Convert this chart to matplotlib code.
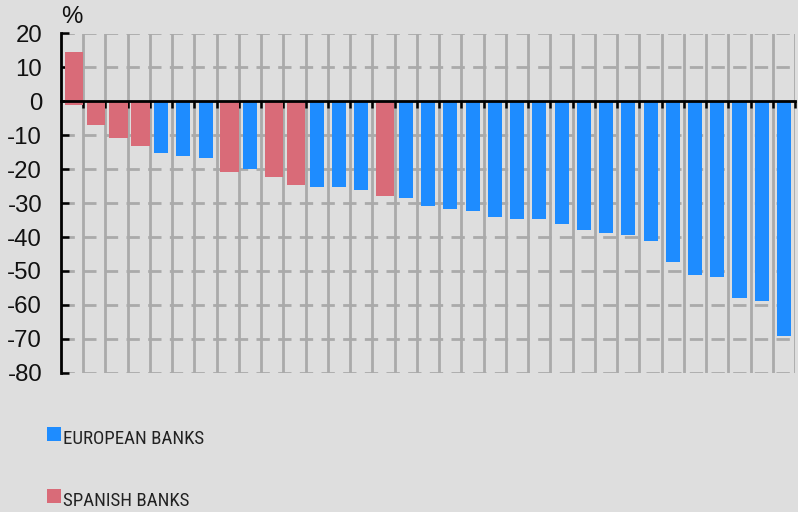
import matplotlib
matplotlib.use("Agg")
import matplotlib.pyplot as plt
from matplotlib.patches import Rectangle

# Share price change by bank (%), sorted from best to worst
values = [14.4, -7.0, -10.7, -13.1, -15.2, -16.0, -16.8, -20.9, -20.0, -22.3,
          -24.6, -25.4, -25.4, -26.2, -27.9, -28.5, -30.8, -31.6, -32.4, -34.0,
          -34.8, -34.8, -36.3, -37.9, -38.7, -39.5, -41.1, -47.3, -51.2, -51.9,
          -58.1, -58.9, -69.1]
groups = ["ES", "ES", "ES", "ES", "EU", "EU", "EU", "ES", "EU", "ES",
          "ES", "EU", "EU", "EU", "ES", "EU", "EU", "EU", "EU", "EU",
          "EU", "EU", "EU", "EU", "EU", "EU", "EU", "EU", "EU", "EU",
          "EU", "EU", "EU"]
bases = [-1.2] + [0.0] * (len(values) - 1)
y_ticks = [20, 10, 0, -10, -20, -30, -40, -50, -60, -70, -80]
legend_labels = ["EUROPEAN BANKS", "SPANISH BANKS"]

BG = "#dedede"
BLUE = "#1e8cff"
RED = "#d96b78"
GRID = "#aaaaaa"

W, H = 798, 512
fig = plt.figure(figsize=(W / 100, H / 100), dpi=100, facecolor=BG)
ax = fig.add_axes([61 / W, 1 - 372.7 / H, (795 - 61) / W, (372.7 - 33.5) / H])
ax.set_facecolor(BG)

n = len(values)
ax.set_xlim(-0.5, n - 0.5)
ax.set_ylim(-80, 20)

# grid: dashed horizontals, solid verticals at category boundaries
for yv in y_ticks:
    if yv != 0:
        ax.axhline(yv, color=GRID, lw=2.0, dashes=(4.8, 3.0), zorder=1)
for i in range(n):
    ax.axvline(i + 0.5, color=GRID, lw=2.0, zorder=1)

# bars
for i, (v, g, b) in enumerate(zip(values, groups, bases)):
    if g == "ES":
        ax.bar(i + 0.075, v - b, bottom=b, width=0.83, color=RED, zorder=2, linewidth=0)
    else:
        ax.bar(i + 0.005, v, width=0.63, color=BLUE, zorder=2, linewidth=0)

# axes styling
for s in ["top", "right"]:
    ax.spines[s].set_visible(False)
ax.spines["bottom"].set_position(("data", 0))
ax.spines["bottom"].set_linewidth(2.0)
ax.spines["bottom"].set_zorder(3)
ax.spines["left"].set_linewidth(2.0)
ax.spines["left"].set_zorder(3)

ax.set_xticks([i + 0.5 for i in range(n)])
ax.set_xticklabels([])
ax.tick_params(axis="x", direction="out", length=5, width=1.8, color="black")

ax.set_yticks(y_ticks)
ax.set_yticklabels([str(t) for t in y_ticks])
ax.tick_params(axis="y", direction="in", length=6, width=1.8, color="black",
               pad=13.5, labelsize=17.3)
for lbl in ax.get_yticklabels():
    lbl.set_fontfamily(["Liberation Sans", "DejaVu Sans"])
    lbl.set_color("#111111")

fig.text(61 / W, 1 - 23 / H, "%", fontsize=17.3, family=["Liberation Sans", "DejaVu Sans"],
         color="#111111", va="baseline", ha="left")

# legend
legend_colors = [BLUE, RED]
legend_tops = [427, 488.5]
for lab, col, top in zip(legend_labels, legend_colors, legend_tops):
    fig.add_artist(Rectangle((47 / W, 1 - (top + 14) / H), 14 / W, 14 / H,
                             transform=fig.transFigure, color=col, lw=0))
    fig.text(63 / W, 1 - (top + 17) / H, lab, fontsize=13.6,
             family=["Liberation Sans Narrow", "Roboto Condensed", "DejaVu Sans"],
             fontstretch="condensed", color="#222222", va="baseline", ha="left")

fig.savefig("out.png", dpi=100, facecolor=BG)
